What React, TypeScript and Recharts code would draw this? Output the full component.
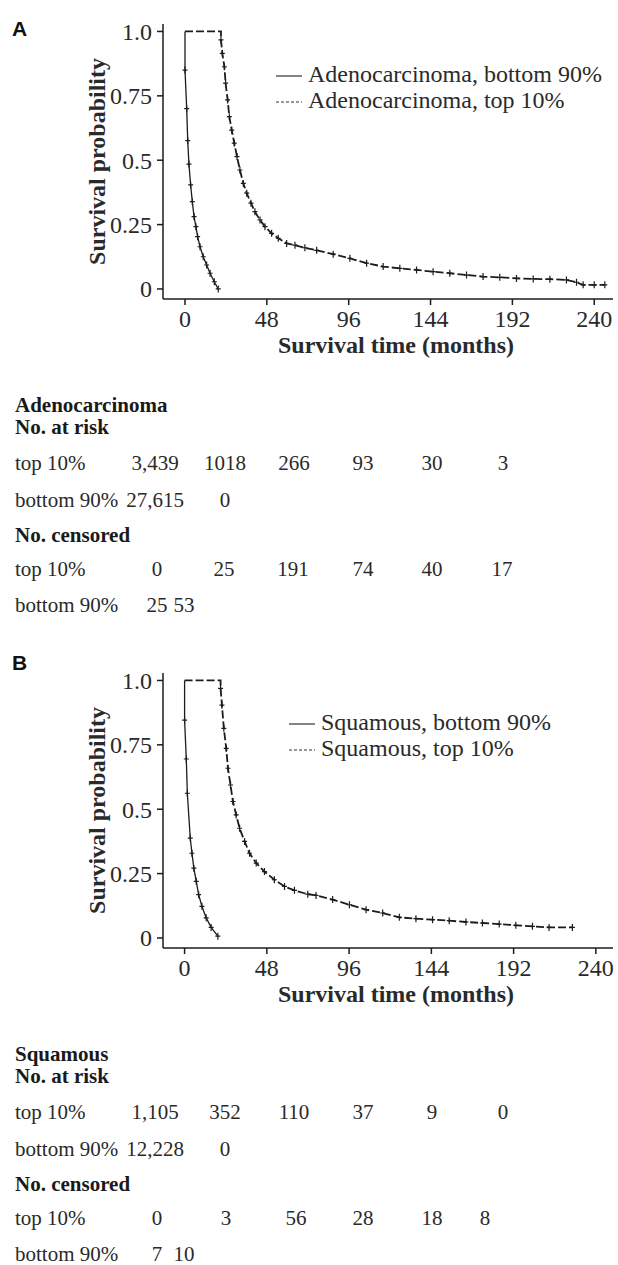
import React from 'react';
import { LineChart, Line, XAxis, YAxis, Legend } from 'recharts';

const SERIF = '"Liberation Serif", "Times New Roman", serif';
const SANS = '"Liberation Sans", Arial, sans-serif';
const INK = '#1c1c1c';

// axis ticks
const MONTH_TICKS = [0, 48, 96, 144, 192, 240];
const PROB_TICKS = [0, 0.25, 0.5, 0.75, 1];

// Panel A - adenocarcinoma (months, survival probability)
const ADENO_BOTTOM_T = [0, 0, 1.0, 1.6, 2.3, 3.3, 4.3, 5.3, 6.4, 7.4, 8.8, 10.7, 12.7, 14.7, 17.2, 19.5];
const ADENO_BOTTOM_S = [1, 0.85, 0.7, 0.576, 0.485, 0.404, 0.339, 0.281, 0.242, 0.203, 0.164, 0.125, 0.093, 0.061, 0.028, 0.0];
const ADENO_TOP_T = [
  0, 21.1, 21.1, 21.9, 23.1, 23.8, 25.0, 26.0, 27.4, 28.9, 30.5, 32.2, 34.2, 36.2, 38.7, 41.0, 44.0, 46.9, 50.8,
  54.7, 59.6, 64.5, 70.3, 77.2, 86.9, 96.7, 106.5, 116.2, 126.0, 135.8, 145.5, 155.3, 165.1, 174.8, 184.6, 194.4,
  204.2, 214.0, 223.7, 229.6, 233.5, 240.0, 246.2,
];
const ADENO_TOP_S = [
  1, 1, 0.967, 0.915, 0.863, 0.799, 0.734, 0.669, 0.617, 0.566, 0.514, 0.462, 0.41, 0.372, 0.333, 0.3, 0.268, 0.242,
  0.216, 0.197, 0.177, 0.17, 0.16, 0.15, 0.135, 0.119, 0.1, 0.087, 0.08, 0.074, 0.067, 0.061, 0.054, 0.048, 0.045,
  0.041, 0.039, 0.038, 0.035, 0.026, 0.016, 0.016, 0.016,
];

// Panel B - squamous
const SQ_BOTTOM_T = [0, 0, 1.0, 1.6, 3.3, 4.3, 5.4, 6.8, 8.2, 10.1, 12.6, 15.5, 19.4];
const SQ_BOTTOM_S = [1, 0.846, 0.695, 0.562, 0.388, 0.329, 0.271, 0.22, 0.168, 0.123, 0.078, 0.041, 0.007];
const SQ_TOP_T = [
  0, 21.0, 21.0, 21.8, 22.9, 24.3, 25.3, 26.8, 28.2, 30.1, 32.1, 35.0, 37.9, 41.8, 46.6, 52.4, 58.3, 64.1, 71.9,
  76.7, 86.4, 96.2, 105.9, 115.6, 125.3, 135.0, 144.7, 154.4, 164.2, 173.8, 183.6, 193.3, 203.0, 212.7, 226.3,
];
const SQ_TOP_S = [
  1, 1, 0.969, 0.904, 0.814, 0.736, 0.659, 0.594, 0.53, 0.478, 0.426, 0.375, 0.329, 0.291, 0.258, 0.226, 0.2, 0.185,
  0.17, 0.165, 0.149, 0.129, 0.11, 0.097, 0.08, 0.075, 0.071, 0.067, 0.062, 0.058, 0.054, 0.049, 0.045, 0.041, 0.041,
];

// risk tables
const ADENO_RISK_TOP = ['3,439', '1018', '266', '93', '30', '3'];
const ADENO_RISK_BOTTOM = ['27,615', '0'];
const ADENO_CENS_TOP = ['0', '25', '191', '74', '40', '17'];
const ADENO_CENS_BOTTOM = ['25', '53'];
const SQ_RISK_TOP = ['1,105', '352', '110', '37', '9', '0'];
const SQ_RISK_BOTTOM = ['12,228', '0'];
const SQ_CENS_TOP = ['0', '3', '56', '28', '18', '8'];
const SQ_CENS_BOTTOM = ['7', '10'];

// column centres of the tables (layout only)
const COL_X = [155, 225, 294, 363, 432, 503];
const CENS_BOTTOM_X = [157, 184];

const toPoints = (t: number[], s: number[]) => t.map((x, i) => ({ t: x, s: s[i] }));

const LINE_STYLE: Record<string, string | undefined> = {};

const CensorMark = (props: any) => {
  const { cx, cy, payload, index } = props;
  if (cx == null || cy == null || !payload || payload.s >= 1) return <g key={`c-${index}`} />;
  return (
    <path
      key={`c-${index}`}
      d={`M${cx},${cy - 3.5}v7M${cx - 2.5},${cy}h5`}
      stroke={INK}
      strokeWidth={1.2}
      fill="none"
    />
  );
};

const renderLegend = (props: any) => {
  const items = props.payload ?? [];
  return (
    <div style={{ fontFamily: SERIF, fontSize: 24, color: '#2a2a2a' }}>
      {items.map((e: any) => (
        <div key={e.value} style={{ display: 'flex', alignItems: 'center', height: 26, lineHeight: '26px', whiteSpace: 'nowrap' }}>
          <svg width={26} height={12} style={{ marginTop: 4 }}>
            <line x1={0} x2={26} y1={6} y2={6} stroke="#333" strokeWidth={1.2} strokeDasharray={LINE_STYLE[e.value]} />
          </svg>
          <span style={{ marginLeft: 6 }}>{e.value}</span>
        </div>
      ))}
    </div>
  );
};

interface PanelProps {
  bottom: { t: number; s: number }[];
  top: { t: number; s: number }[];
  bottomName: string;
  topName: string;
  xDomain: [number, number];
  legendLeft: number;
  legendTop: number;
}

const SurvivalPanel: React.FC<PanelProps> = ({ bottom, top, bottomName, topName, xDomain, legendLeft, legendTop }) => {
  LINE_STYLE[bottomName] = undefined;
  LINE_STYLE[topName] = '3 2';
  return (
    <LineChart width={618} height={370} margin={{ top: 24, right: 5, bottom: 0, left: 0 }}>
      <XAxis
        type="number"
        dataKey="t"
        domain={xDomain}
        ticks={MONTH_TICKS}
        allowDataOverflow
        height={71}
        tickSize={6}
        tickMargin={5}
        stroke={INK}
        strokeWidth={1.5}
        tick={{ fontSize: 24, fill: '#2a2a2a', fontFamily: SERIF }}
        label={{
          value: 'Survival time (months)',
          position: 'insideBottom',
          offset: 17,
          dx: 8,
          fontSize: 24,
          fontWeight: 700,
          fontFamily: SERIF,
          fill: '#2a2a2a',
        }}
      />
      <YAxis
        type="number"
        domain={[-0.039, 1.029]}
        ticks={PROB_TICKS}
        allowDataOverflow
        width={163}
        tickSize={6}
        tickMargin={5}
        stroke={INK}
        strokeWidth={1.5}
        tick={{ fontSize: 24, fill: '#2a2a2a', fontFamily: SERIF }}
        tickFormatter={(v: number) => (v === 1 ? '1.0' : String(v))}
        label={{
          value: 'Survival probability',
          angle: -90,
          position: 'insideLeft',
          offset: 96,
          fontSize: 24,
          fontWeight: 700,
          fontFamily: SERIF,
          fill: '#2a2a2a',
          style: { textAnchor: 'middle' },
        }}
      />
      <Legend
        layout="horizontal"
        verticalAlign="middle"
        align="center"
        wrapperStyle={{ top: legendTop, left: legendLeft, width: 'auto', height: 'auto' }}
        content={renderLegend}
      />
      <Line
        data={bottom}
        dataKey="s"
        name={bottomName}
        type="linear"
        stroke={INK}
        strokeWidth={1.3}
        dot={CensorMark}
        activeDot={false}
        isAnimationActive={false}
      />
      <Line
        data={top}
        dataKey="s"
        name={topName}
        type="linear"
        stroke={INK}
        strokeWidth={1.8}
        strokeDasharray="8 3"
        dot={CensorMark}
        activeDot={false}
        isAnimationActive={false}
      />
    </LineChart>
  );
};

interface TableProps {
  y: number;
  title: string;
  riskTop: string[];
  riskBottom: string[];
  censTop: string[];
  censBottom: string[];
  censTopX: number[];
}

const RiskTable: React.FC<TableProps> = ({ y, title, riskTop, riskBottom, censTop, censBottom, censTopX }) => {
  const txt = { fontFamily: SERIF, fontSize: 21, fill: '#2a2a2a' };
  const bold = { ...txt, fontWeight: 700, fill: '#1a1a1a' };
  return (
    <g transform={`translate(0, ${y})`}>
      <text x={15} y={0} {...bold}>{title}</text>
      <text x={15} y={22} {...bold}>No. at risk</text>
      <text x={15} y={58} {...txt}>top 10%</text>
      {riskTop.map((v, i) => (
        <text key={`rt${i}`} x={COL_X[i]} y={58} textAnchor="middle" {...txt}>{v}</text>
      ))}
      <text x={15} y={95} {...txt}>bottom 90%</text>
      {riskBottom.map((v, i) => (
        <text key={`rb${i}`} x={COL_X[i]} y={95} textAnchor="middle" {...txt}>{v}</text>
      ))}
      <text x={15} y={130} {...bold}>No. censored</text>
      <text x={15} y={164} {...txt}>top 10%</text>
      {censTop.map((v, i) => (
        <text key={`ct${i}`} x={censTopX[i]} y={164} textAnchor="middle" {...txt}>{v}</text>
      ))}
      <text x={15} y={200} {...txt}>bottom 90%</text>
      {censBottom.map((v, i) => (
        <text key={`cb${i}`} x={CENS_BOTTOM_X[i]} y={200} textAnchor="middle" {...txt}>{v}</text>
      ))}
    </g>
  );
};

export default function App() {
  return (
    <div style={{ position: 'absolute', left: 0, top: 0, width: 618, height: 1265, background: '#fff' }}>
      <div style={{ position: 'absolute', left: 0, top: 0 }}>
        <SurvivalPanel
          bottom={toPoints(ADENO_BOTTOM_T, ADENO_BOTTOM_S)}
          top={toPoints(ADENO_TOP_T, ADENO_TOP_S)}
          bottomName="Adenocarcinoma, bottom 90%"
          topName="Adenocarcinoma, top 10%"
          xDomain={[-12.9, 251]}
          legendLeft={276}
          legendTop={61}
        />
      </div>
      <div style={{ position: 'absolute', left: 0, top: 649 }}>
        <SurvivalPanel
          bottom={toPoints(SQ_BOTTOM_T, SQ_BOTTOM_S)}
          top={toPoints(SQ_TOP_T, SQ_TOP_S)}
          bottomName="Squamous, bottom 90%"
          topName="Squamous, top 10%"
          xDomain={[-12.6, 250]}
          legendLeft={289}
          legendTop={60}
        />
      </div>
      <svg width={618} height={1265} style={{ position: 'absolute', left: 0, top: 0, pointerEvents: 'none' }}>
        <text x={12} y={36} fontFamily={SANS} fontWeight={700} fontSize={21} fill="#111">A</text>
        <text x={12} y={670} fontFamily={SANS} fontWeight={700} fontSize={21} fill="#111">B</text>
        <RiskTable
          y={412}
          title="Adenocarcinoma"
          riskTop={ADENO_RISK_TOP}
          riskBottom={ADENO_RISK_BOTTOM}
          censTop={ADENO_CENS_TOP}
          censBottom={ADENO_CENS_BOTTOM}
          censTopX={[157, 224, 293, 363, 432, 502]}
        />
        <RiskTable
          y={1061}
          title="Squamous"
          riskTop={SQ_RISK_TOP}
          riskBottom={SQ_RISK_BOTTOM}
          censTop={SQ_CENS_TOP}
          censBottom={SQ_CENS_BOTTOM}
          censTopX={[157, 226, 296, 363, 432, 485]}
        />
      </svg>
    </div>
  );
}
